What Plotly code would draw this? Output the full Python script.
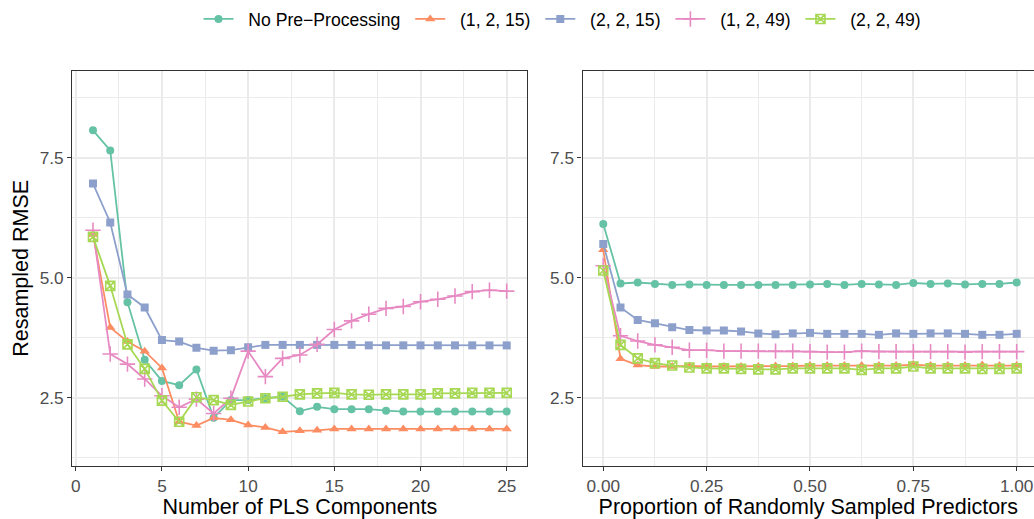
import plotly.graph_objects as go

# ---------------- data ----------------
series_names = ["No Pre\u2212Processing", "(1, 2, 15)", "(2, 2, 15)", "(1, 2, 49)", "(2, 2, 49)"]
colors = ["#66C2A5", "#FC8D62", "#8DA0CB", "#E78AC3", "#A6D854"]

pls_components = list(range(1, 26))
rmse_pls_none = [8.07, 7.65, 4.49, 3.29, 2.85, 2.76, 3.09, 2.08, 2.45, 2.45, 2.49, 2.52, 2.22,
                 2.31, 2.26, 2.26, 2.26, 2.23, 2.21, 2.21, 2.21, 2.21, 2.21, 2.21, 2.21]
rmse_pls_1_2_15 = [5.90, 3.96, 3.67, 3.47, 3.12, 2.00, 1.92, 2.08, 2.04, 1.93, 1.88, 1.79, 1.81,
                   1.82, 1.85, 1.85, 1.85, 1.85, 1.85, 1.85, 1.85, 1.85, 1.85, 1.85, 1.85]
rmse_pls_2_2_15 = [6.96, 6.15, 4.65, 4.38, 3.70, 3.67, 3.54, 3.48, 3.49, 3.55, 3.60, 3.60, 3.60,
                   3.60, 3.60, 3.60, 3.59, 3.59, 3.59, 3.59, 3.59, 3.59, 3.59, 3.59, 3.59]
rmse_pls_1_2_49 = [5.99, 3.41, 3.20, 2.89, 2.54, 2.30, 2.47, 2.17, 2.49, 3.47, 2.94, 3.32, 3.39,
                   3.61, 3.92, 4.10, 4.24, 4.36, 4.40, 4.50, 4.55, 4.62, 4.71, 4.74, 4.72]
rmse_pls_2_2_49 = [5.85, 4.83, 3.61, 3.10, 2.44, 2.00, 2.51, 2.45, 2.35, 2.42, 2.49, 2.52, 2.57,
                   2.59, 2.60, 2.57, 2.56, 2.57, 2.57, 2.57, 2.59, 2.59, 2.60, 2.60, 2.60]

proportion = [0.0, 0.0417, 0.0833, 0.125, 0.1667, 0.2083, 0.25, 0.2917, 0.3333, 0.375, 0.4167,
              0.4583, 0.5, 0.5417, 0.5833, 0.625, 0.6667, 0.7083, 0.75, 0.7917, 0.8333, 0.875,
              0.9167, 0.9583, 1.0]
rmse_prop_none = [6.12, 4.88, 4.90, 4.87, 4.85, 4.86, 4.85, 4.85, 4.85, 4.85, 4.85, 4.85, 4.86,
                  4.87, 4.85, 4.87, 4.86, 4.85, 4.89, 4.87, 4.88, 4.86, 4.87, 4.87, 4.90]
rmse_prop_1_2_15 = [5.58, 3.31, 3.18, 3.15, 3.15, 3.16, 3.15, 3.15, 3.15, 3.15, 3.16, 3.16, 3.17,
                    3.17, 3.17, 3.17, 3.17, 3.17, 3.19, 3.17, 3.17, 3.17, 3.18, 3.17, 3.17]
rmse_prop_2_2_15 = [5.70, 4.38, 4.12, 4.05, 3.97, 3.91, 3.90, 3.90, 3.88, 3.84, 3.82, 3.84, 3.85,
                    3.83, 3.83, 3.83, 3.81, 3.84, 3.83, 3.84, 3.84, 3.83, 3.81, 3.81, 3.83]
rmse_prop_1_2_49 = [5.25, 3.79, 3.68, 3.60, 3.55, 3.49, 3.49, 3.47, 3.47, 3.47, 3.47, 3.47, 3.46,
                    3.45, 3.45, 3.47, 3.46, 3.46, 3.46, 3.46, 3.46, 3.45, 3.46, 3.46, 3.46]
rmse_prop_2_2_49 = [5.15, 3.60, 3.32, 3.22, 3.17, 3.13, 3.11, 3.11, 3.10, 3.09, 3.09, 3.11, 3.11,
                    3.11, 3.11, 3.08, 3.11, 3.11, 3.15, 3.11, 3.11, 3.11, 3.10, 3.10, 3.11]

x_ticks_left = [0, 5, 10, 15, 20, 25]
x_ticks_right = [0.0, 0.25, 0.5, 0.75, 1.0]
x_ticklabels_right = ["0.00", "0.25", "0.50", "0.75", "1.00"]
y_ticks = [2.5, 5.0, 7.5]
y_ticklabels = ["2.5", "5.0", "7.5"]

# ---------------- styling ----------------
W, H = 1034, 519
FONT = "Liberation Sans, Arial, Helvetica, sans-serif"
symbols = ["circle", "triangle-up", "square", "cross-thin", "square-x-open"]
sizes = [8, 9, 8, 11, 9]
left_sets = [rmse_pls_none, rmse_pls_1_2_15, rmse_pls_2_2_15, rmse_pls_1_2_49, rmse_pls_2_2_49]
right_sets = [rmse_prop_none, rmse_prop_1_2_15, rmse_prop_2_2_15, rmse_prop_1_2_49, rmse_prop_2_2_49]

NB = "\u00a0"
fig = go.Figure()
for i, name in enumerate(series_names):
    mk = dict(symbol=symbols[i], size=sizes[i], color=colors[i])
    if symbols[i] in ("cross-thin", "square-x-open"):
        mk["line"] = dict(color=colors[i], width=1.6)
    # legend spacing padding (non-breaking spaces) to mimic ggplot's key/label gaps
    label = NB * 2 + name + (NB if i < len(series_names) - 1 else "")
    fig.add_trace(go.Scatter(x=pls_components, y=left_sets[i], mode="lines+markers",
                             name=label, legendgroup=name, line=dict(color=colors[i], width=1.8),
                             marker=mk, xaxis="x", yaxis="y"))
    fig.add_trace(go.Scatter(x=proportion, y=right_sets[i], mode="lines+markers",
                             name=label, legendgroup=name, showlegend=False,
                             line=dict(color=colors[i], width=1.8),
                             marker=mk, xaxis="x2", yaxis="y2"))

grid_major = "#EBEBEB"
border = "#333333"
tickfont = dict(family=FONT, size=17.2, color="#4D4D4D")
titlefont = dict(family=FONT, size=21.5, color="#000000")

y_dom = [(H - 466) / H, (H - 70.7) / H]
common_axis = dict(showline=True, mirror=True, linecolor=border, linewidth=1.4,
                   ticks="outside", ticklen=4, tickcolor=border, tickwidth=1.2,
                   showgrid=True, gridcolor=grid_major, gridwidth=1.6,
                   zeroline=False, tickfont=tickfont, automargin=False)

fig.update_layout(
    width=W, height=H,
    margin=dict(l=0, r=0, t=0, b=0),
    paper_bgcolor="white", plot_bgcolor="white",
    font=dict(family=FONT),
    showlegend=True,
    legend=dict(orientation="h", x=0.544, xanchor="center", y=1 - 19 / H, yanchor="middle",
                font=dict(family=FONT, size=17.6, color="#000000"), itemwidth=30,
                bgcolor="rgba(0,0,0,0)"),
    xaxis=dict(domain=[72.3 / W, 527.4 / W], range=[-0.2, 26.2], anchor="y",
               tickvals=x_ticks_left, ticktext=[str(v) for v in x_ticks_left],
               minor=dict(dtick=2.5, tick0=2.5, showgrid=True, gridcolor=grid_major, gridwidth=0.8, ticks=""),
               title=dict(text="Number of PLS Components", font=titlefont, standoff=2),
               **common_axis),
    yaxis=dict(domain=y_dom, range=[1.077, 9.3125], anchor="x",
               tickvals=y_ticks, ticktext=y_ticklabels,
               minor=dict(dtick=2.5, tick0=1.25, showgrid=True, gridcolor=grid_major, gridwidth=0.8, ticks=""),
               title=dict(text="Resampled RMSE", font=titlefont, standoff=5),
               **common_axis),
    xaxis2=dict(domain=[582.6 / W, 1.0], range=[-0.05, (W - 603.3) / 413.4], anchor="y2",
                tickvals=x_ticks_right, ticktext=x_ticklabels_right,
                minor=dict(dtick=0.25, tick0=0.125, showgrid=True, gridcolor=grid_major, gridwidth=0.8, ticks=""),
                title=dict(text="Proportion of Randomly Sampled Predictors", font=titlefont, standoff=2),
                **common_axis),
    yaxis2=dict(domain=y_dom, range=[1.077, 9.3125], anchor="x2",
                tickvals=y_ticks, ticktext=y_ticklabels,
                minor=dict(dtick=2.5, tick0=1.25, showgrid=True, gridcolor=grid_major, gridwidth=0.8, ticks=""),
                **common_axis),
)

fig.write_html("out.html", config={"displayModeBar": False},
               post_script="document.body.style.margin='0';document.body.style.overflow='hidden';")
